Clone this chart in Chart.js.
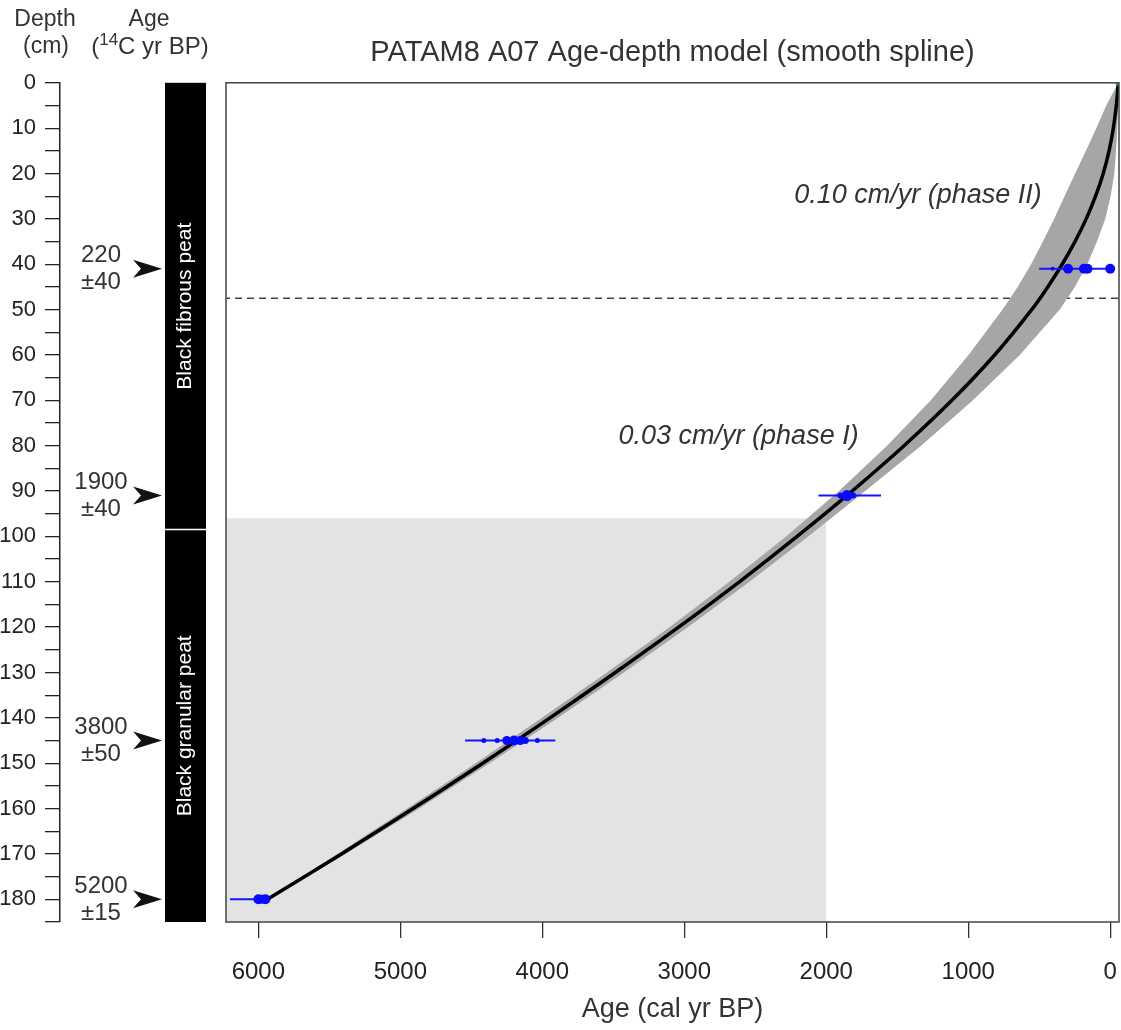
<!DOCTYPE html>
<html><head><meta charset="utf-8">
<script src="https://cdn.jsdelivr.net/npm/chart.js@4.4.1/dist/chart.umd.min.js"></script>
<style>html,body{margin:0;padding:0;background:#fff;}#wrap{width:1121px;height:1030px;position:relative;}</style>
</head><body><div id="wrap"><canvas id="c"></canvas></div>
<script>
// ---------------- data ----------------
const chartTitle = 'PATAM8 A07 Age-depth model (smooth spline)';
const xAxisTitle = 'Age (cal yr BP)';
const ageTicks = [0, 1000, 2000, 3000, 4000, 5000, 6000];
const depthTicks = [0,5,10,15,20,25,30,35,40,45,50,55,60,65,70,75,80,85,90,95,100,105,110,115,120,125,130,135,140,145,150,155,160,165,170,175,180,185];
const depthLabelStep = 10;
const ageMin = -62, ageMax = 6228, depthMin = 0, depthMax = 185;

// age-depth model (smooth spline)
const modelDepths = [0, 5, 10, 15, 20, 25, 30, 35, 40, 45, 50, 60, 70, 80, 90, 100, 110, 120, 130, 140, 150, 160, 170, 180];
const modelAges   = [-57, -43, -22, 8, 49, 103, 169, 248, 338, 440, 553, 814, 1115, 1452, 1818, 2205, 2612, 3040, 3486, 3946, 4420, 4910, 5415, 5937];

// 95% envelope (old and young edges)
const bandDepths = [0, 5, 10, 15, 20, 25, 30, 35, 40, 45, 50, 60, 70, 80, 90, 100, 110, 120, 130, 140, 150, 160, 170, 180];
const bandOld    = [-57, 28, 98, 171, 247, 322, 395, 474, 557, 652, 758, 998, 1263, 1572, 1910, 2283, 2683, 3104, 3546, 4003, 4469, 4952, 5443, 5944];
const bandYoung  = [-57, -57, -50, -41, -29, -3, 35, 93, 161, 249, 355, 637, 967, 1332, 1726, 2127, 2541, 2976, 3426, 3889, 4371, 4868, 5387, 5930];

// radiocarbon dates
const dateDepths = [41, 91, 145, 180];
const c14Ages    = [220, 1900, 3800, 5200];
const c14Errors  = [40, 40, 50, 15];
const calRangeYoung = [0, 1614, 3908, 5936];
const calRangeOld   = [500, 2055, 4544, 6200];

// calibrated probability blobs
const blobDepths = [41, 41, 41, 41, 41, 91, 91, 91, 145, 145, 145, 145, 145, 145, 145, 180, 180, 180];
const blobAges   = [405, 297, 185, 160, 0, 1900, 1855, 1810, 4412, 4318, 4250, 4200, 4155, 4120, 4035, 6000, 5975, 5950];
const blobRadii  = [2, 5, 5, 5, 5, 3, 5.5, 3, 2.5, 2.5, 4.5, 5, 4.5, 3.5, 2.5, 5, 4.5, 5];

// surface point
const surfaceDepth = [0];
const surfaceAge = [-57];

// reference line / shaded zone
const phaseBoundaryDepth = 47.5;
const shadeAgeFrom = 2000;
const shadeDepthFrom = 96;

// annotations
const annotTexts  = ['0.10 cm/yr (phase II)', '0.03 cm/yr (phase I)'];
const annotAges   = [2226, 3463];
const annotDepths = [24.8, 78];

// stratigraphy
const unitNames   = ['Black fibrous peat', 'Black granular peat'];
const unitTops    = [0, 98.5];
const unitBottoms = [98.5, 185];

// ---------------- chart ----------------
const FONT = '"Liberation Sans", Arial, sans-serif';
const pts = (xs, ys) => xs.map((x, i) => ({x: x, y: ys[i]}));
const bandPoly = pts(bandOld, bandDepths).concat(pts(bandYoung.slice().reverse(), bandDepths.slice().reverse()));

const datasets = [];
datasets.push({label: 'surface', data: pts(surfaceAge, surfaceDepth), showLine: false, pointRadius: 3, pointBackgroundColor: '#1b9a9a', pointBorderWidth: 0, order: 0});
datasets.push({label: 'blobs', data: pts(blobAges, blobDepths), showLine: false, pointRadius: blobRadii, pointBackgroundColor: '#0a0aff', pointBorderWidth: 0, order: 1});
dateDepths.forEach((d, i) => {
  datasets.push({label: 'cal' + i, data: [{x: calRangeYoung[i], y: d}, {x: calRangeOld[i], y: d}], showLine: true, borderColor: '#1414ff', borderWidth: 2, pointRadius: 0, order: 2});
});
datasets.push({label: 'model', data: pts(modelAges, modelDepths), showLine: true, borderColor: '#000', borderWidth: 3.5, pointRadius: 0, tension: 0.4, order: 3});
datasets.push({label: 'band', data: bandPoly, showLine: true, borderWidth: 0, borderColor: 'rgba(0,0,0,0)', backgroundColor: '#a6a6a6', fill: 'shape', pointRadius: 0, tension: 0, order: 4});
datasets.push({label: 'boundary', data: [{x: ageMin - 500, y: phaseBoundaryDepth}, {x: ageMax + 500, y: phaseBoundaryDepth}], showLine: true, borderColor: '#444', borderWidth: 1.3, borderDash: [7, 5], pointRadius: 0, order: 5});
datasets.push({label: 'shade', data: [{x: shadeAgeFrom, y: shadeDepthFrom}, {x: ageMax + 500, y: shadeDepthFrom}], showLine: true, borderWidth: 0, borderColor: 'rgba(0,0,0,0)', backgroundColor: '#e3e3e3', fill: {value: depthMax}, pointRadius: 0, order: 6});

const decor = {
  id: 'decor',
  afterDraw(chart) {
    const ctx = chart.ctx, a = chart.chartArea;
    const xs = chart.scales.x, ys = chart.scales.yDepth;
    ctx.save();
    // plot box
    ctx.strokeStyle = '#444'; ctx.lineWidth = 1.5;
    ctx.strokeRect(a.left, a.top, a.right - a.left, a.bottom - a.top);
    // annotations
    ctx.fillStyle = '#333';
    ctx.font = 'italic 27px ' + FONT;
    ctx.textAlign = 'left'; ctx.textBaseline = 'middle';
    annotTexts.forEach((t, i) => ctx.fillText(t, xs.getPixelForValue(annotAges[i]), chart.scales.y.getPixelForValue(annotDepths[i])));
    // headers
    ctx.font = '23px ' + FONT; ctx.textAlign = 'center'; ctx.fillStyle = '#333';
    ctx.fillText('Depth', 45, 20);
    ctx.fillText('(cm)', 46, 47);
    ctx.fillText('Age', 149, 20);
    const p1 = '(', p2 = '14', p3 = 'C yr BP)';
    ctx.font = '24px ' + FONT; const w1 = ctx.measureText(p1).width, w3 = ctx.measureText(p3).width;
    ctx.font = '17px ' + FONT; const w2 = ctx.measureText(p2).width;
    const x0 = 150 - (w1 + w2 + w3) / 2;
    ctx.textAlign = 'left';
    ctx.font = '24px ' + FONT; ctx.fillText(p1, x0, 47);
    ctx.font = '17px ' + FONT; ctx.fillText(p2, x0 + w1, 40);
    ctx.font = '24px ' + FONT; ctx.fillText(p3, x0 + w1 + w2, 47);
    // stratigraphic column
    const colL = 165, colR = 206;
    unitNames.forEach((n, i) => {
      const t = ys.getPixelForValue(unitTops[i]), b = ys.getPixelForValue(unitBottoms[i]);
      ctx.fillStyle = '#000';
      ctx.fillRect(colL, t, colR - colL, b - t);
      ctx.save();
      ctx.translate((colL + colR) / 2, (t + b) / 2);
      ctx.rotate(-Math.PI / 2);
      ctx.fillStyle = '#fff'; ctx.font = '21px ' + FONT;
      ctx.textAlign = 'center'; ctx.textBaseline = 'middle';
      ctx.fillText(n, 0, 0);
      ctx.restore();
    });
    for (let i = 1; i < unitTops.length; i++) {
      const y = ys.getPixelForValue(unitTops[i]);
      ctx.strokeStyle = '#fff'; ctx.lineWidth = 1.5;
      ctx.beginPath(); ctx.moveTo(colL, y); ctx.lineTo(colR, y); ctx.stroke();
    }
    // C14 ages and arrows
    ctx.font = '24px ' + FONT; ctx.textAlign = 'center'; ctx.textBaseline = 'middle';
    dateDepths.forEach((d, i) => {
      const y = ys.getPixelForValue(d);
      ctx.fillStyle = '#333';
      ctx.fillText(String(c14Ages[i]), 101, y - 13);
      ctx.fillText('\u00b1' + c14Errors[i], 101, y + 14);
      ctx.fillStyle = '#111';
      ctx.beginPath();
      ctx.moveTo(162, y); ctx.lineTo(133, y - 9); ctx.lineTo(141, y); ctx.lineTo(133, y + 9); ctx.closePath();
      ctx.fill();
    });
    ctx.restore();
  }
};

new Chart(document.getElementById('c'), {
  type: 'scatter',
  data: {datasets: datasets},
  options: {
    responsive: true, maintainAspectRatio: false, animation: false,
    layout: {autoPadding: false, padding: {top: 0, right: 2, bottom: 4, left: 0}},
    plugins: {
      legend: {display: false}, tooltip: {enabled: false},
      title: {display: true, text: chartTitle, fullSize: false, color: '#333', font: {family: FONT, size: 29, weight: 'normal'}, padding: {top: 36, bottom: 12}}
    },
    scales: {
      x: {
        type: 'linear', reverse: true, min: ageMin, max: ageMax, position: 'bottom',
        afterBuildTicks: s => { s.ticks = ageTicks.map(v => ({value: v})); },
        afterFit: s => { s.height = 104; s.paddingLeft = 0; s.paddingRight = 0; },
        grid: {drawOnChartArea: false, drawTicks: true, tickLength: 16, color: '#333', lineWidth: 1.3},
        border: {display: false},
        ticks: {callback: v => String(v), font: {family: FONT, size: 24}, color: '#222', padding: 20, maxRotation: 0, autoSkip: false},
        title: {display: true, text: xAxisTitle, color: '#333', font: {family: FONT, size: 27}, padding: {top: 4, bottom: 0}}
      },
      y: {type: 'linear', reverse: true, min: depthMin, max: depthMax, display: false},
      yDepth: {
        type: 'linear', reverse: true, min: depthMin, max: depthMax, position: 'left', weight: 2,
        afterFit: s => { s.width = 60; },
        afterBuildTicks: s => { s.ticks = depthTicks.map(v => ({value: v})); },
        ticks: {callback: v => (v % depthLabelStep === 0 ? String(v) : ''), font: {family: FONT, size: 22}, color: '#222', padding: 9, autoSkip: false},
        grid: {drawOnChartArea: false, tickLength: 15, color: '#222', lineWidth: 1.3},
        border: {display: true, color: '#222', width: 1.5}
      },
      ySpacer: {
        type: 'linear', position: 'left', weight: 1, min: depthMin, max: depthMax,
        afterFit: s => { s.width = 166; },
        grid: {display: false}, ticks: {display: false}, border: {display: false}
      }
    }
  },
  plugins: [decor]
});
</script></body></html>
